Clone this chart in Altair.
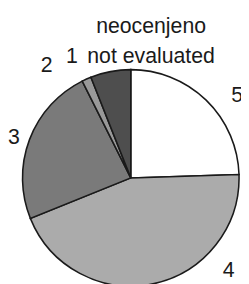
import altair as alt
import pandas as pd

# slices in clockwise order starting at 12 o'clock
categories = ["5", "4", "3", "2", "1"]
shares = [24.5, 44.4, 23.7, 1.4, 6.0]
slice_order = [1, 2, 3, 4, 5]
fills = ["#ffffff", "#ababab", "#7a7a7a", "#999999", "#4e4e4e"]

df = pd.DataFrame({"category": categories, "share": shares, "ord": slice_order})

FONT = "Liberation Sans"
TXT = "#1a1a1a"

pie = alt.Chart(df).mark_arc(radius=112, stroke="#1a1a1a", strokeWidth=1.6).encode(
    theta=alt.Theta("share:Q", stack=True),
    order=alt.Order("ord:Q"),
    color=alt.Color("category:N", scale=alt.Scale(domain=categories, range=fills), legend=None),
    x=alt.value(127),
    y=alt.value(171),
)

one = alt.Data(values=[{}])

def label(text, x, y, align="left"):
    return alt.Chart(one).mark_text(
        font=FONT, fontSize=22, color=TXT, align=align, baseline="alphabetic"
    ).encode(x=alt.value(x), y=alt.value(y), text=alt.value(text))

labels = [
    label("neocenjeno", 148, 21, "center"),
    label("not evaluated", 82, 52),
    label("1", 60, 52),
    label("2", 34, 61),
    label("3", 0, 136),
    label("5", 231, 92),
    label("4", 222, 274),
]

chart = alt.layer(pie, *labels).properties(
    width=241, height=276, padding=0, autosize=alt.AutoSizeParams(type="none")
).configure_view(stroke=None)

chart.save("out.html", embed_options={"renderer": "svg", "actions": False})
